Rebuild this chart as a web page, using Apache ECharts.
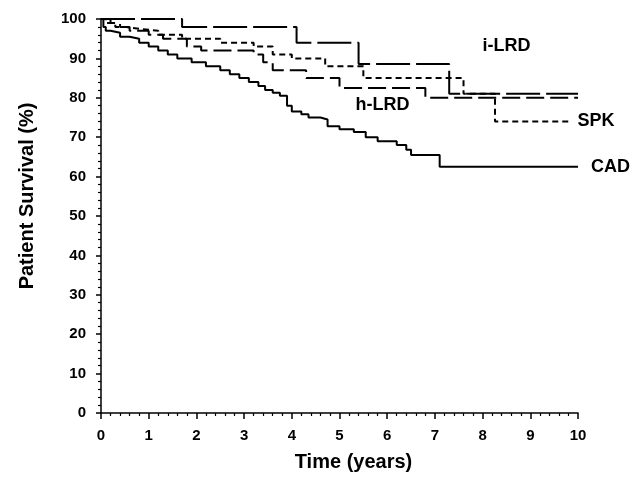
<!DOCTYPE html>
<html>
<head>
<meta charset="utf-8">
<script src="https://cdn.jsdelivr.net/npm/echarts@6/dist/echarts.min.js"></script>
<style>
  html, body { margin: 0; padding: 0; background: #fff; }
  #chart { width: 631px; height: 477px; }
</style>
</head>
<body>
<div id="chart"></div>
<script>
// Kaplan-Meier estimates (time in years, survival in %)
const cadTime = [0, 0.05, 0.1, 0.2, 0.4, 0.6, 0.8, 1.0, 1.2, 1.4, 1.6, 1.9, 2.2, 2.5, 2.7, 2.9, 3.1, 3.3, 3.44, 3.6, 3.75, 3.9, 4.0, 4.2, 4.35, 4.6, 4.75, 5.0, 5.3, 5.55, 5.8, 6.2, 6.4, 6.5, 7.1, 10];
const cadSurv = [100, 98, 97, 96.5, 95.5, 95, 94, 93, 92, 91, 90, 89, 88, 87, 86, 85, 84, 83, 82, 81.3, 80.5, 78, 76.5, 75.8, 75, 74.5, 72.8, 72, 71.3, 70, 69, 68, 66.8, 65.5, 62.5, 62.5];

const spkTime = [0, 0.1, 0.3, 0.5, 0.8, 1.2, 1.7, 2.5, 3.2, 3.6, 4.0, 4.7, 5.5, 7.6, 8.26, 9.8];
const spkSurv = [100, 99, 98, 97.5, 97, 96, 95, 94, 93, 91, 90, 88, 85, 81, 74, 74];

const hlrdTime = [0, 0.2, 0.4, 0.6, 1.0, 1.3, 1.8, 2.1, 3.2, 3.4, 3.6, 4.3, 5.0, 6.8, 10];
const hlrdSurv = [100, 99, 98, 97, 96, 95, 93, 92, 91, 89, 87, 85, 82.5, 80, 80];

const ilrdTime = [0, 1.7, 4.1, 5.4, 7.3, 10];
const ilrdSurv = [100, 98, 94, 88.6, 81, 81];

const xTicks = [0, 10, 1];     // min, max, step
const yTicks = [0, 100, 10];

const FONT = 'Liberation Sans';

function pairs(t, s) {
  return t.map((v, i) => [v, s[i]]);
}

function curve(name, t, s, dash, label, labelPos, labelOffset) {
  return {
    name: name,
    type: 'line',
    step: 'end',
    symbol: 'none',
    data: pairs(t, s),
    lineStyle: { color: '#000', width: 2, type: dash },
    markPoint: {
      symbol: 'circle',
      symbolSize: 0,
      data: [{ coord: label }],
      label: {
        show: true,
        formatter: name,
        position: labelPos,
        offset: labelOffset,
        color: '#000',
        fontFamily: FONT,
        fontWeight: 'bold',
        fontSize: 18,
      },
    },
  };
}

const chart = echarts.init(document.getElementById('chart'), null, { renderer: 'canvas' });

chart.setOption({
  animation: false,
  backgroundColor: '#fff',
  grid: { left: 101, right: 53, top: 19, bottom: 61 },
  xAxis: {
    type: 'value',
    min: xTicks[0],
    max: xTicks[1],
    interval: xTicks[2],
    offset: 6,
    name: 'Time (years)',
    nameLocation: 'middle',
    nameGap: 33,
    nameTextStyle: { color: '#000', fontFamily: FONT, fontWeight: 'bold', fontSize: 20, padding: [0, 0, 0, 28] },
    axisLine: { lineStyle: { color: '#000', width: 1.5 } },
    axisTick: { length: 6, lineStyle: { color: '#000', width: 1.5 } },
    minorTick: { show: true, splitNumber: 5, length: 3, lineStyle: { color: '#000', width: 1.2 } },
    axisLabel: { margin: 9, color: '#000', fontFamily: FONT, fontWeight: 'bold', fontSize: 15 },
    splitLine: { show: false },
  },
  yAxis: {
    type: 'value',
    min: yTicks[0],
    max: yTicks[1],
    interval: yTicks[2],
    offset: 4,
    name: 'Patient Survival (%)',
    nameLocation: 'middle',
    nameGap: 60,
    nameTextStyle: { color: '#000', fontFamily: FONT, fontWeight: 'bold', fontSize: 20, padding: [0, 0, 0, 40] },
    axisLine: { show: true, lineStyle: { color: '#000', width: 1.5 } },
    axisTick: { show: true, length: 5, lineStyle: { color: '#000', width: 1.5 } },
    minorTick: { show: true, splitNumber: 5, length: 3, lineStyle: { color: '#000', width: 1.2 } },
    axisLabel: { margin: 11, color: '#000', fontFamily: FONT, fontWeight: 'bold', fontSize: 15 },
    splitLine: { show: false },
  },
  series: [
    curve('i-LRD', ilrdTime, ilrdSurv, [34, 6], [8.5, 88.6], 'top', [0, -4]),
    curve('h-LRD', hlrdTime, hlrdSurv, [18, 6], [5.9, 82.5], 'bottom', [0, 3]),
    curve('SPK', spkTime, spkSurv, [6, 4], [9.8, 74], 'right', [4, 0]),
    curve('CAD', cadTime, cadSurv, 'solid', [10, 62.5], 'right', [8, 0]),
  ],
});
</script>
</body>
</html>
